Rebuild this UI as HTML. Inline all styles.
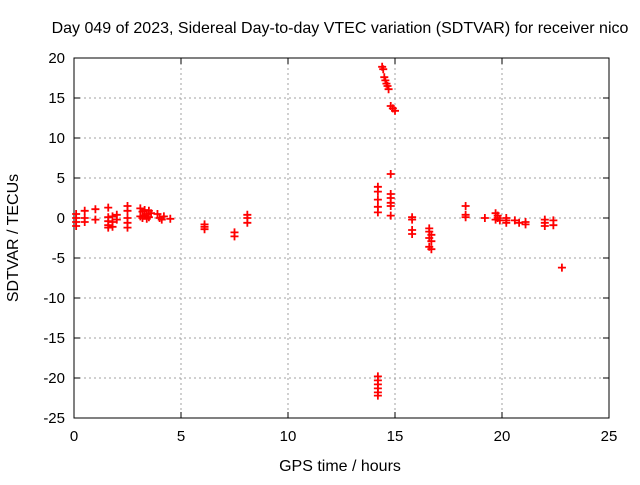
<!DOCTYPE html>
<html><head><meta charset="utf-8"><style>
body{margin:0;background:#fff;}
svg text{font-family:"Liberation Sans",sans-serif;font-size:15px;fill:#000;}
svg text.t{font-size:16px;}
</style></head><body>
<svg id="chart" width="640" height="480" xmlns="http://www.w3.org/2000/svg">
<rect width="640" height="480" fill="#fff"/>
<text class="t" x="340" y="33" text-anchor="middle">Day 049 of 2023, Sidereal Day-to-day VTEC variation (SDTVAR) for receiver nico</text>
<text class="t" x="340" y="471" text-anchor="middle">GPS time / hours</text>
<text class="t" transform="translate(18,238) rotate(-90)" text-anchor="middle">SDTVAR / TECUs</text>
<g id="grid"></g><g id="axes"></g><g id="pts"></g>
</svg>
<script>
const hours = [0.1,0.1,0.1,0.1,0.5,0.5,0.5,1.0,1.0,1.6,1.6,1.6,1.6,1.6,1.8,1.8,1.8,2.0,2.0,2.5,2.5,2.5,2.5,2.5,3.1,3.2,3.3,3.4,3.5,3.2,3.3,3.4,3.6,3.1,3.5,3.9,4.0,4.1,4.2,4.5,6.1,6.1,6.1,7.5,7.5,8.1,8.1,8.1,
14.2,14.2,14.2,14.2,14.2,14.4,14.45,14.5,14.55,14.6,14.65,14.7,14.8,14.9,15.0,14.8,14.8,14.8,14.8,14.8,14.8,14.2,14.2,14.2,14.2,14.2,14.2,
15.8,15.8,15.8,15.8,16.6,16.6,16.7,16.6,16.7,16.6,16.7,18.3,18.3,18.3,19.2,19.7,19.8,19.8,19.9,19.7,20.2,20.2,20.2,20.6,20.8,21.1,21.1,22.0,22.0,22.0,22.4,22.4,22.8];
const values = [-1,-0.5,0,0.5,0.9,0,-0.5,1.1,-0.2,1.3,0.1,-0.4,-0.9,-1.2,0.2,-0.5,-1.1,0.4,-0.2,1.5,0.9,0,-0.6,-1.2,1.2,0.8,1.0,0.5,0.9,0,0.3,-0.1,0.6,0.2,0.1,0.5,0,-0.2,0.2,-0.1,-0.8,-1.1,-1.4,-1.8,-2.3,0.4,0,-0.6,
3.9,3.3,2.3,1.4,0.7,18.9,18.6,17.6,17.2,16.8,16.5,16.1,14.0,13.7,13.4,5.5,3.0,2.5,1.9,1.5,0.3,-19.8,-20.3,-20.8,-21.3,-21.8,-22.2,
0.1,-0.2,-1.5,-2.0,-1.3,-1.7,-2.1,-2.5,-2.9,-3.6,-3.9,1.5,0.4,0.1,0,0.6,0.3,0,-0.3,-0.2,0,-0.3,-0.6,-0.3,-0.6,-0.5,-0.8,-0.2,-0.6,-1.0,-0.3,-0.9,-6.2];
const xTicks = [0,5,10,15,20,25];
const yTicks = [20,15,10,5,0,-5,-10,-15,-20,-25];
const L=74,R=609,T=58,B=418;
const X=h=>L+(h-0)/25*(R-L);
const Y=v=>T+(20-v)/45*(B-T);
const NS="http://www.w3.org/2000/svg";
function mk(tag,attrs,parent){const e=document.createElementNS(NS,tag);for(const k in attrs)e.setAttribute(k,attrs[k]);parent.appendChild(e);return e;}
const grid=document.getElementById('grid'),axes=document.getElementById('axes'),pts=document.getElementById('pts');
xTicks.forEach(t=>{const x=X(t);
 if(t>0&&t<25){const g=mk('line',{x1:x,x2:x,y1:T,y2:B,stroke:'#a0a0a0','stroke-dasharray':'2,3'},grid);
 
 }
 mk('line',{x1:x,x2:x,y1:B,y2:B-6,stroke:'#000'},axes);mk('line',{x1:x,x2:x,y1:T,y2:T+6,stroke:'#000'},axes);
 const tx=mk('text',{x:x,y:B+23,'text-anchor':'middle'},axes);tx.textContent=t;
 
 });
yTicks.forEach(t=>{const y=Y(t);
 if(t<20&&t>-25){const g=mk('line',{x1:L,x2:R,y1:y,y2:y,stroke:'#a0a0a0','stroke-dasharray':'2,3'},grid);
 
 }
 mk('line',{x1:L,x2:L+6,y1:y,y2:y,stroke:'#000'},axes);mk('line',{x1:R,x2:R-6,y1:y,y2:y,stroke:'#000'},axes);
 const tx=mk('text',{x:L-9,y:y+5,'text-anchor':'end'},axes);tx.textContent=t;
 
 });
const fr=mk('rect',{x:L,y:T,width:R-L,height:B-T,fill:'none',stroke:'#000'},axes);


hours.forEach((h,i)=>{const x=X(h),y=Y(values[i]);
 const p=mk('path',{d:`M${x-4},${y}H${x+4}M${x},${y-4}V${y+4}`,stroke:'#f00','stroke-width':1.8,fill:'none'},pts);
 
 });
</script>
</body></html>
